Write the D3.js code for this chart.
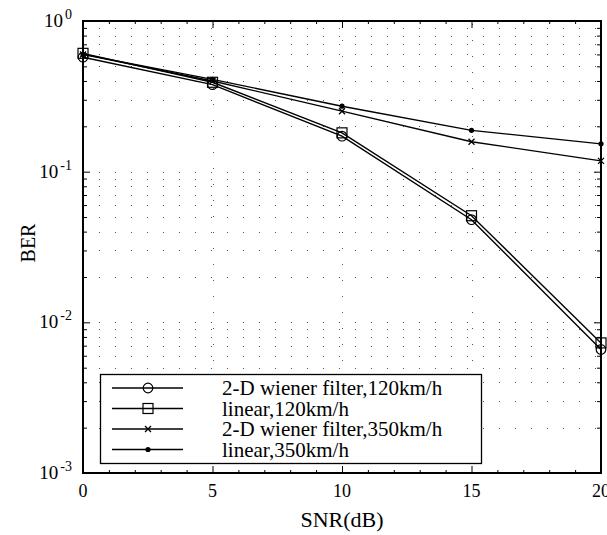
<!DOCTYPE html>
<html>
<head>
<meta charset="utf-8">
<script src="https://cdn.jsdelivr.net/npm/d3@7"></script>
<style>
  body { margin: 0; background: #fff; }
  svg { display: block; }
  svg text { font-family: "Liberation Serif", "DejaVu Serif", serif; fill: #000; }
</style>
</head>
<body>
<div id="chart"></div>
<script>
// data
const snr = [0, 5, 10, 15, 20];
const wiener120 = [0.575, 0.378, 0.172, 0.048, 0.0066];
const linear120 = [0.61, 0.392, 0.181, 0.051, 0.0073];
const wiener350 = [0.6, 0.40, 0.252, 0.158, 0.118];
const linear350 = [0.6, 0.41, 0.272, 0.188, 0.153];
const seriesNames = ['2-D wiener filter,120km/h', 'linear,120km/h', '2-D wiener filter,350km/h', 'linear,350km/h'];
const xTicks = [0, 5, 10, 15, 20];
const yExponents = [0, -1, -2, -3];

const W = 607, H = 535;
const margin = { top: 21, right: 6, bottom: 62, left: 83 };
const innerW = W - margin.left - margin.right;
const innerH = H - margin.top - margin.bottom;

const svg = d3.select('#chart').append('svg').attr('width', W).attr('height', H);
const g = svg.append('g').attr('transform', `translate(${margin.left},${margin.top})`);

const x = d3.scaleLinear().domain([0, 20]).range([0, innerW]);
const y = d3.scaleLog().domain([1e-3, 1]).range([innerH, 0]);

const majorY = yExponents.map(e => Math.pow(10, e));
const minorY = [];
[-3, -2, -1].forEach(e => { for (let k = 2; k <= 9; k++) minorY.push(k * Math.pow(10, e)); });
const minorX = d3.range(0, 21).filter(v => v % 5 !== 0);

// dotted grid
const grid = g.append('g').attr('stroke', '#555').attr('stroke-width', 1).attr('stroke-dasharray', '1,15');
grid.selectAll('.gy').data(minorY.concat(majorY)).join('line')
  .attr('x1', 0).attr('x2', innerW)
  .attr('y1', d => Math.round(y(d)) + 0.5).attr('y2', d => Math.round(y(d)) + 0.5);
grid.selectAll('.gx').data([5, 10, 15]).join('line')
  .attr('x1', d => Math.round(x(d)) + 0.5).attr('x2', d => Math.round(x(d)) + 0.5)
  .attr('y1', innerH).attr('y2', 0);

// ticks (inward, mirrored)
function tickAxis(axis, transform) {
  const a = g.append('g').attr('transform', transform).call(axis);
  a.select('.domain').remove();
  a.selectAll('text').remove();
  a.selectAll('line').attr('stroke', '#000').attr('stroke-width', 1);
}
tickAxis(d3.axisLeft(y).tickValues(majorY).tickSize(-7), 'translate(0,0)');
tickAxis(d3.axisLeft(y).tickValues(minorY).tickSize(-4), 'translate(0,0)');
tickAxis(d3.axisRight(y).tickValues(majorY).tickSize(-7), `translate(${innerW},0)`);
tickAxis(d3.axisRight(y).tickValues(minorY).tickSize(-4), `translate(${innerW},0)`);
tickAxis(d3.axisBottom(x).tickValues(xTicks).tickSize(-7), `translate(0,${innerH})`);
tickAxis(d3.axisBottom(x).tickValues(minorX).tickSize(-3), `translate(0,${innerH})`);
tickAxis(d3.axisTop(x).tickValues(xTicks).tickSize(-7), 'translate(0,0)');
tickAxis(d3.axisTop(x).tickValues(minorX).tickSize(-3), 'translate(0,0)');

// frame
g.append('rect').attr('width', innerW).attr('height', innerH)
  .attr('fill', 'none').attr('stroke', '#000').attr('stroke-width', 2);

// x tick labels
g.selectAll('.xl').data(xTicks).join('text')
  .attr('x', d => x(d)).attr('y', innerH + 24)
  .attr('text-anchor', 'middle').attr('font-size', 18)
  .text(d => d);

// y tick labels 10^e
const yl = g.selectAll('.yl').data(yExponents).join('text')
  .attr('x', -11).attr('y', d => y(Math.pow(10, d)) + 6)
  .attr('text-anchor', 'end').attr('font-size', 19);
yl.append('tspan').text('10');
yl.append('tspan').attr('dy', -8).attr('dx', 2).attr('font-size', 14).text(d => d === 0 ? '0' : '-' + (-d));

// axis titles
svg.append('text').attr('x', margin.left + x(10)).attr('y', 527)
  .attr('text-anchor', 'middle').attr('font-size', 22).text('SNR(dB)');
svg.append('text').attr('transform', 'translate(35,243) rotate(-90)')
  .attr('text-anchor', 'middle').attr('font-size', 20).text('BER');

// series
const series = [
  { vals: wiener120, marker: 'circle' },
  { vals: linear120, marker: 'square' },
  { vals: wiener350, marker: 'cross' },
  { vals: linear350, marker: 'dot' }
];
const line = d3.line().x(d => x(d[0])).y(d => y(d[1]));

function drawMarker(sel, type) {
  if (type === 'circle') {
    sel.append('circle').attr('r', 4.8).attr('fill', 'none').attr('stroke', '#000').attr('stroke-width', 1.2);
  } else if (type === 'square') {
    sel.append('rect').attr('x', -5).attr('y', -5).attr('width', 10).attr('height', 10)
      .attr('fill', 'none').attr('stroke', '#000').attr('stroke-width', 1.2);
  } else if (type === 'cross') {
    sel.append('path').attr('d', 'M-3,-3L3,3M-3,3L3,-3').attr('stroke', '#000').attr('stroke-width', 1.3);
  } else {
    sel.append('circle').attr('r', 2.6).attr('fill', '#000');
  }
}

series.forEach(s => {
  const pts = snr.map((v, i) => [v, s.vals[i]]);
  g.append('path').datum(pts).attr('d', line)
    .attr('fill', 'none').attr('stroke', '#000').attr('stroke-width', 1.4);
  g.selectAll(null).data(pts).join('g')
    .attr('transform', d => `translate(${x(d[0])},${y(d[1])})`)
    .each(function () { drawMarker(d3.select(this), s.marker); });
});

// legend
const lg = svg.append('g').attr('transform', 'translate(100,374)');
lg.append('rect').attr('x', 0.5).attr('y', 0.5).attr('width', 381).attr('height', 89)
  .attr('fill', '#fff').attr('stroke', '#000').attr('stroke-width', 1.3);
series.forEach((s, i) => {
  const row = lg.append('g').attr('transform', `translate(0,${14 + i * 20.5})`);
  row.append('line').attr('x1', 12).attr('x2', 83).attr('stroke', '#000').attr('stroke-width', 1.3);
  drawMarker(row.append('g').attr('transform', 'translate(48,0)'), s.marker);
  row.append('text').attr('x', 122).attr('y', 7).attr('font-size', 21).text(seriesNames[i]);
});
</script>
</body>
</html>
